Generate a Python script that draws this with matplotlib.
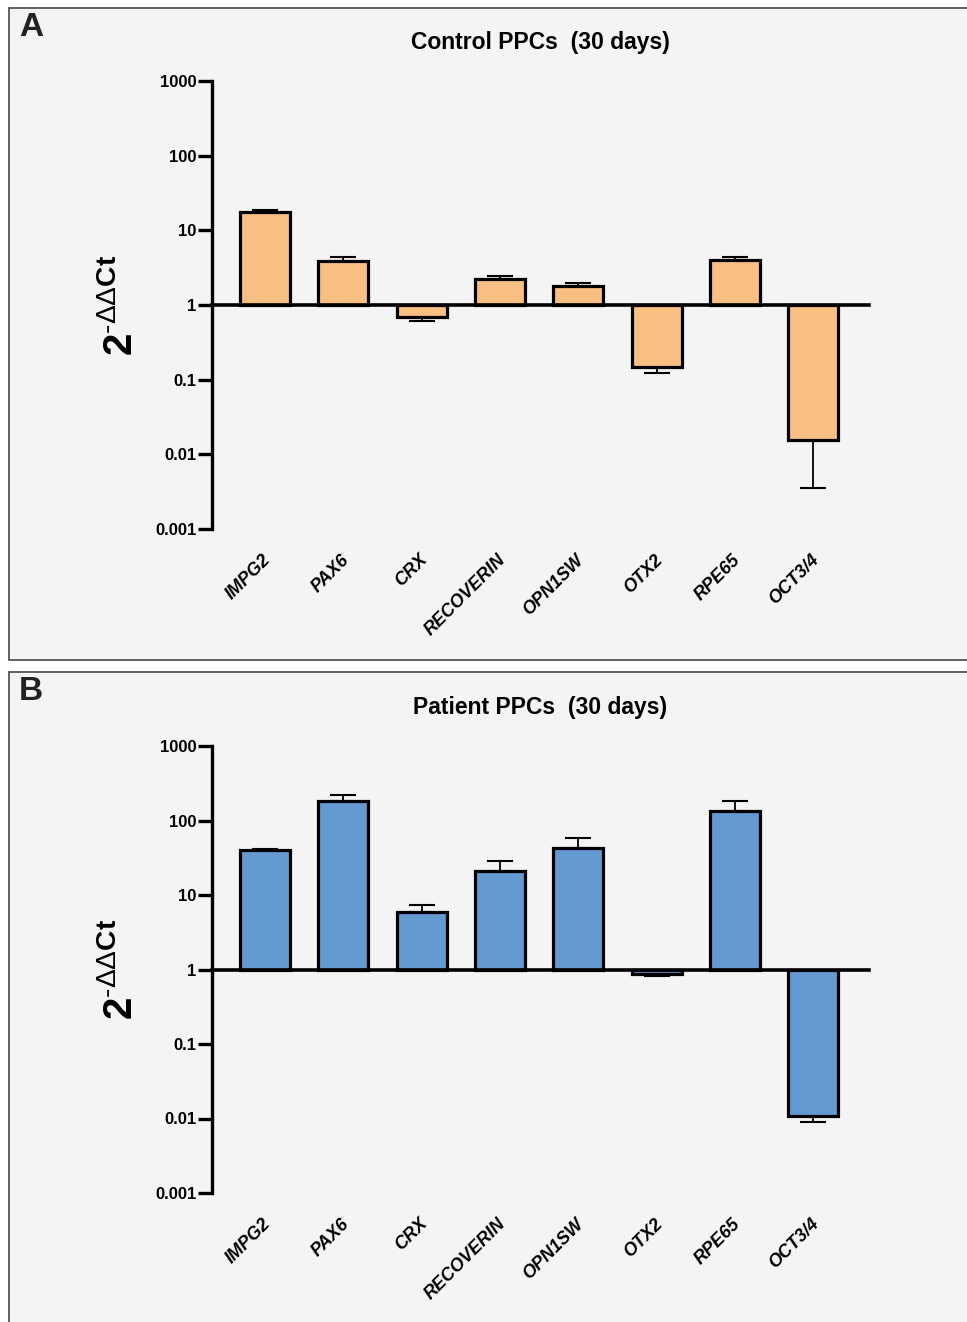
import numpy as np
import matplotlib
matplotlib.use("Agg")
import matplotlib.pyplot as plt
from matplotlib.patches import Rectangle
from matplotlib.ticker import NullLocator
from matplotlib.transforms import ScaledTranslation, blended_transform_factory

plt.rcParams['font.family'] = ['Liberation Sans', 'DejaVu Sans']
plt.rcParams['mathtext.fontset'] = 'custom'
plt.rcParams['mathtext.rm'] = 'Liberation Sans'
plt.rcParams['mathtext.bf'] = 'Liberation Sans:bold'
plt.rcParams['mathtext.it'] = 'Liberation Sans:italic'

# ---- data ----
genes = ["IMPG2", "PAX6", "CRX", "RECOVERIN", "OPN1SW", "OTX2", "RPE65", "OCT3/4"]
control_vals = [17.7, 3.85, 0.70, 2.21, 1.81, 0.148, 4.0, 0.0157]
control_err = [1.3, 0.58, 0.087, 0.26, 0.14, 0.024, 0.35, 0.0122]
patient_vals = [40.0, 181.0, 5.87, 21.1, 42.6, 0.88, 134.5, 0.0108]
patient_err = [2.0, 37.0, 1.5, 7.4, 14.8, 0.05, 48.0, 0.0017]
ytick_vals = [0.001, 0.01, 0.1, 1, 10, 100, 1000]
ytick_labels = ["0.001", "0.01", "0.1", "1", "10", "100", "1000"]
titles = ["Control PPCs  (30 days)", "Patient PPCs  (30 days)"]
panel_letters = ["A", "B"]
colors = ["#F9BF82", "#6499D2"]

W, H = 967, 1322
fig = plt.figure(figsize=(W / 100, H / 100), dpi=100)
fig.patch.set_facecolor("white")

# panel boxes (pixel coords: top, bottom)
boxes = [(8, 660), (672, 1330)]
axes_px = [(81, 529), (746, 1193)]
ax_left, ax_right = 212, 869

for i in range(2):
    top, bot = boxes[i]
    rect = Rectangle((9 / W, 1 - bot / H), (975 - 9) / W, (bot - top) / H,
                     transform=fig.transFigure, facecolor="#F4F4F4",
                     edgecolor="#555555", linewidth=1.3, zorder=-10)
    fig.patches.append(rect)
    fig.text(31 / W, 1 - (top + 20) / H, panel_letters[i], fontsize=24,
             fontweight="bold", ha="center", va="center", color="#222222")

    at, ab = axes_px[i]
    ax = fig.add_axes([ax_left / W, 1 - ab / H, (ax_right - ax_left) / W, (ab - at) / H])
    ax.set_facecolor("none")
    vals = np.array(control_vals if i == 0 else patient_vals)
    errs = np.array(control_err if i == 0 else patient_err)
    x = np.arange(len(genes))

    ax.set_yscale("log")
    ax.set_ylim(0.001, 1000)
    ax.set_xlim(-0.677, 7.71)

    up = vals >= 1
    ax.errorbar(x[up], vals[up], yerr=[np.zeros(up.sum()), errs[up]], fmt="none",
                ecolor="black", elinewidth=1.3, capsize=9.5, capthick=1.5, zorder=1.5)
    dn = ~up
    ax.errorbar(x[dn], vals[dn], yerr=[errs[dn], np.zeros(dn.sum())], fmt="none",
                ecolor="black", elinewidth=1.3, capsize=9.5, capthick=1.5, zorder=1.5)
    ax.bar(x, vals - 1, bottom=1, width=0.64, color=colors[i],
           edgecolor="black", linewidth=2.3, zorder=2)
    ax.axhline(1, color="black", linewidth=2.6, zorder=3, clip_on=False)

    for s in ["top", "right", "bottom"]:
        ax.spines[s].set_visible(False)
    ax.spines["left"].set_linewidth(2.4)
    ax.set_yticks(ytick_vals)
    ax.set_yticklabels(ytick_labels, fontsize=12, fontweight="bold")
    ax.yaxis.set_minor_locator(NullLocator())
    ax.tick_params(axis="y", which="major", direction="out", length=10, width=2.4, pad=1)

    ax.set_xticks(x)
    ax.set_xticklabels(genes, rotation=45, ha="right", va="top", rotation_mode="anchor",
                       fontsize=13, fontweight="bold", fontstyle="italic")
    ax.tick_params(axis="x", length=0, pad=16)
    for lab in ax.get_xticklabels():
        lab.set_transform(lab.get_transform() + ScaledTranslation(-3 / 100, 0, fig.dpi_scale_trans))

    ax.text(0.5, 1 + 39 / (ab - at), titles[i], transform=ax.transAxes,
            ha="center", va="center", fontsize=16.5, fontweight="bold")

    tr = blended_transform_factory(ax.transAxes, ax.transData)
    ax.text(-(ax_left - 120) / (ax_right - ax_left), 1,
            "$\\mathbf{2}^{\u2010\\Delta\\Delta\\mathbf{Ct}}$",
            transform=tr, rotation=90, ha="center", va="center", fontsize=29)

fig.savefig("out.png", dpi=100)
